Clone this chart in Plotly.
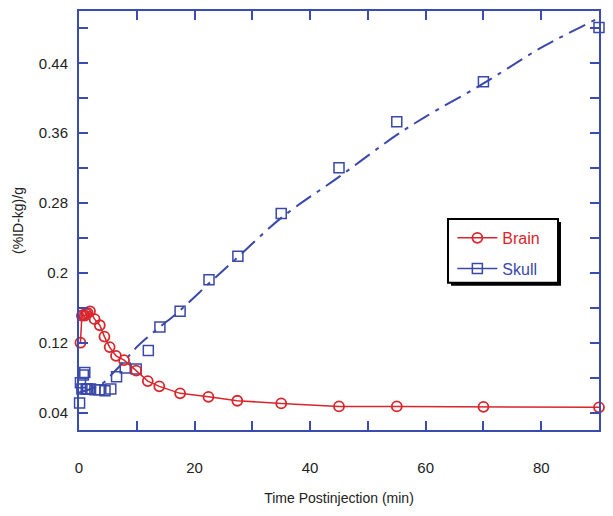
import plotly.graph_objects as go

# Brain data (red circles)
brain_t = [0.25, 0.5, 0.75, 1.0, 1.25, 1.5, 1.9, 2.7, 3.6, 4.4, 5.3, 6.4, 7.8, 9.9, 11.9, 13.9,
           17.5, 22.4, 27.4, 35, 45, 55, 70, 90]
brain_v = [0.120, 0.151, 0.152, 0.151, 0.153, 0.154, 0.156, 0.147, 0.140, 0.127, 0.115, 0.105,
           0.100, 0.088, 0.076, 0.070, 0.062, 0.058, 0.0535, 0.0505, 0.047, 0.047, 0.0465, 0.046]

# Skull data (blue squares)
skull_t = [0.1, 0.25, 0.5, 0.75, 1.0, 1.25, 1.5, 2.0, 2.75, 3.5, 4.5, 5.5, 6.5, 8.0, 9.9, 12, 14,
           17.5, 22.5, 27.5, 35, 45, 55, 70, 90]
skull_v = [0.051, 0.074, 0.067, 0.083, 0.086, 0.067, 0.067, 0.067, 0.066, 0.066, 0.065, 0.067,
           0.081, 0.091, 0.090, 0.111, 0.138, 0.156, 0.192, 0.219, 0.268, 0.3205, 0.373, 0.419, 0.481]

# Skull fitted curve (dashed)
fit_t = [0, 2, 4, 6, 8, 10, 12, 14, 17.5, 22.5, 27.5, 35, 45, 55, 60, 70, 80, 90]
fit_v = [0.063, 0.067, 0.073, 0.086, 0.100, 0.115, 0.127, 0.138, 0.157, 0.188, 0.218, 0.263,
         0.310, 0.358, 0.379, 0.417, 0.458, 0.492]

x_ticks = [0, 10, 20, 30, 40, 50, 60, 70, 80, 90]
x_labels = ["0", "", "20", "", "40", "", "60", "", "80", ""]
y_ticks = [0.04, 0.08, 0.12, 0.16, 0.2, 0.24, 0.28, 0.32, 0.36, 0.40, 0.44, 0.48]
y_labels = ["0.04", "", "0.12", "", "0.2", "", "0.28", "", "0.36", "", "0.44", ""]

RED = "#d8262c"
BLUE = "#3a48a8"
AXIS = "#3a4cb0"

fig = go.Figure()
fig.add_trace(go.Scatter(x=fit_t, y=fit_v, mode="lines", showlegend=False,
                         line=dict(color=BLUE, width=2, dash="18px,7px,4px,7px"),
                         line_shape="spline"))
fig.add_trace(go.Scatter(x=skull_t, y=skull_v, mode="markers", showlegend=False,
                         cliponaxis=False,
                         marker=dict(symbol="square-open", size=10, color=BLUE,
                                     line=dict(width=1.5, color=BLUE))))
fig.add_trace(go.Scatter(x=brain_t, y=brain_v, mode="lines+markers", legendgroup="b",
                         name="<span style='color:%s'>Brain</span>" % RED,
                         cliponaxis=False,
                         line=dict(color=RED, width=1.5),
                         marker=dict(symbol="circle-open", size=10, color=RED,
                                     line=dict(width=1.8, color=RED))))
fig.add_trace(go.Scatter(x=[None], y=[None], mode="lines+markers", legendgroup="s",
                         name="<span style='color:%s'>Skull</span>" % BLUE,
                         line=dict(color=BLUE, width=1.5),
                         marker=dict(symbol="square-open", size=10, color=BLUE,
                                     line=dict(width=1.5, color=BLUE))))

axis_common = dict(showline=True, linecolor=AXIS, linewidth=2, mirror="ticks",
                   ticks="inside", ticklen=9, tickwidth=2, tickcolor=AXIS,
                   showgrid=False, zeroline=False,
                   tickfont=dict(family="Liberation Sans, Arial", size=15, color="#222"),
                   title_font=dict(family="Liberation Sans, Arial", size=14, color="#222"))

fig.update_xaxes(range=[0, 90], tickmode="array", tickvals=x_ticks, ticktext=x_labels,
                 title_text="Time Postinjection (min)", ticklabelstandoff=23,
                 title_standoff=18, **axis_common)
fig.update_yaxes(range=[0.02, 0.5], tickmode="array", tickvals=y_ticks, ticktext=y_labels,
                 title_text="(%ID-kg)/g", ticklabelstandoff=6, title_standoff=12,
                 **axis_common)

# legend box with drop shadow
fig.add_shape(type="rect", xref="paper", yref="paper",
              x0=0.7154, x1=0.9269, y0=0.3444, y1=0.4964,
              fillcolor="black", line=dict(width=0), layer="above")
fig.add_shape(type="rect", xref="paper", yref="paper",
              x0=0.7096, x1=0.9212, y0=0.3515, y1=0.5036,
              fillcolor="white", line=dict(width=2, color="black"), layer="above")

fig.update_layout(
    width=605, height=508,
    margin=dict(l=71, r=14, t=1, b=86),
    plot_bgcolor="white", paper_bgcolor="white",
    legend=dict(x=0.718, y=0.499, xanchor="left", yanchor="top",
                bgcolor="rgba(0,0,0,0)", borderwidth=0,
                font=dict(family="Liberation Sans, Arial", size=16),
                itemwidth=40, tracegroupgap=7, traceorder="grouped"),
)

fig.write_html("out.html")
